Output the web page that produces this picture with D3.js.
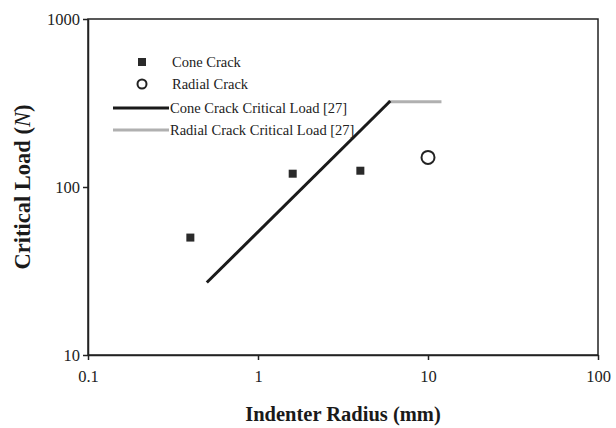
<!DOCTYPE html>
<html><head><meta charset="utf-8">
<script src="https://cdn.jsdelivr.net/npm/d3@7"></script>
<style>body{margin:0;background:#fff}svg{display:block}</style>
</head><body>
<script>
const coneRadius = [0.4, 1.6, 4.0];
const coneLoad = [50, 120, 125];
const radialRadius = [10];
const radialLoad = [150];
const coneLineRadius = [0.5, 6];
const coneLineLoad = [27, 325];
const radialLineRadius = [5.8, 12];
const radialLineLoad = [322, 322];
const xTicks = [0.1, 1, 10, 100];
const yTicks = [10, 100, 1000];
const legendLabels = ["Cone Crack", "Radial Crack", "Cone Crack Critical Load [27]", "Radial Crack Critical Load [27]"];

const W = 616, H = 428;
const m = {l: 88, r: 18, t: 19, b: 73};
const svg = d3.select("body").append("svg").attr("width", W).attr("height", H);
const x = d3.scaleLog().domain([0.1, 100]).range([m.l, W - m.r]);
const y = d3.scaleLog().domain([10, 1000]).range([H - m.b, m.t]);
const font = "'Liberation Serif', 'Times New Roman', serif";

// frame
svg.append("rect").attr("x", m.l).attr("y", m.t).attr("width", W - m.r - m.l).attr("height", H - m.b - m.t)
  .attr("fill", "none").attr("stroke", "#222").attr("stroke-width", 1.5);

const xAxis = svg.append("g").attr("transform", `translate(0,${H - m.b})`)
  .call(d3.axisBottom(x).tickValues(xTicks).tickFormat(d3.format("~g")).tickSize(5).tickSizeOuter(0));
const yAxis = svg.append("g").attr("transform", `translate(${m.l},0)`)
  .call(d3.axisLeft(y).tickValues(yTicks).tickFormat(d3.format("~g")).tickSize(5).tickSizeOuter(0));
[xAxis, yAxis].forEach(a => {
  a.select(".domain").attr("stroke", "#222").attr("stroke-width", 1.5);
  a.selectAll(".tick line").attr("stroke", "#222").attr("stroke-width", 1.5);
  a.selectAll(".tick text").attr("font-family", font).attr("font-size", 16.5).attr("fill", "#222");
});
xAxis.selectAll(".tick text").attr("y", 21).attr("dy", "0.35em");
yAxis.selectAll(".tick text").attr("x", -8);

// axis titles
svg.append("text").attr("x", 343).attr("y", 421).attr("text-anchor", "middle")
  .attr("font-family", font).attr("font-size", 20.5).attr("font-weight", "bold").attr("fill", "#1a1a1a")
  .text("Indenter Radius (mm)");
const yt = svg.append("text").attr("transform", `translate(30,187) rotate(-90)`)
  .attr("text-anchor", "middle").attr("font-family", font).attr("font-size", 22.5).attr("font-weight", "bold").attr("fill", "#1a1a1a");
yt.append("tspan").text("Critical Load (");
yt.append("tspan").attr("font-style", "italic").attr("font-weight", "normal").text("N");
yt.append("tspan").text(")");

const line = d3.line().x(d => x(d[0])).y(d => y(d[1]));
svg.append("path").datum(radialLineRadius.map((r, i) => [r, radialLineLoad[i]])).attr("d", line)
  .attr("fill", "none").attr("stroke", "#b0b0b0").attr("stroke-width", 3);
svg.append("path").datum(coneLineRadius.map((r, i) => [r, coneLineLoad[i]])).attr("d", line)
  .attr("fill", "none").attr("stroke", "#1a1a1a").attr("stroke-width", 3);

const sq = 8;
svg.selectAll("rect.cone").data(coneRadius.map((r, i) => [r, coneLoad[i]])).join("rect").attr("class", "cone")
  .attr("x", d => x(d[0]) - sq / 2).attr("y", d => y(d[1]) - sq / 2).attr("width", sq).attr("height", sq).attr("fill", "#2a2a2a");
svg.selectAll("circle.radial").data(radialRadius.map((r, i) => [r, radialLoad[i]])).join("circle").attr("class", "radial")
  .attr("cx", d => x(d[0])).attr("cy", d => y(d[1])).attr("r", 6.5).attr("fill", "#fff").attr("stroke", "#222").attr("stroke-width", 2);

// legend
const lg = svg.append("g");
const ly = [62, 84, 108, 130];
lg.append("rect").attr("x", 142 - 4).attr("y", ly[0] - 4).attr("width", 8).attr("height", 8).attr("fill", "#2a2a2a");
lg.append("circle").attr("cx", 142).attr("cy", ly[1]).attr("r", 4.5).attr("fill", "#fff").attr("stroke", "#222").attr("stroke-width", 2);
lg.append("line").attr("x1", 113).attr("x2", 169).attr("y1", ly[2]).attr("y2", ly[2]).attr("stroke", "#1a1a1a").attr("stroke-width", 3);
lg.append("line").attr("x1", 113).attr("x2", 169).attr("y1", ly[3]).attr("y2", ly[3]).attr("stroke", "#b0b0b0").attr("stroke-width", 3);
legendLabels.forEach((t, i) => {
  lg.append("text").attr("x", i < 2 ? 172 : 170).attr("y", ly[i]).attr("dy", "0.35em")
    .attr("font-family", font).attr("font-size", 14.5).attr("fill", "#222").text(t);
});
</script>
</body></html>
